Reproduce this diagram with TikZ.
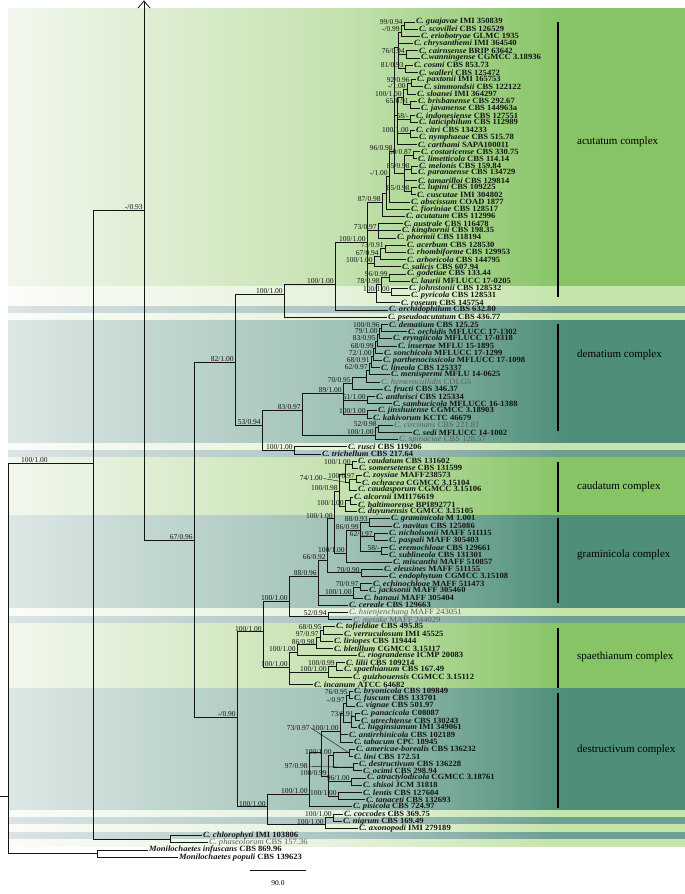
\documentclass[tikz,border=0pt]{standalone}
\usepackage{fontspec}
\setmainfont{Liberation Serif}
\newfontfamily\leaffont[FakeStretch=1.07]{Liberation Serif}
\usetikzlibrary{arrows.meta}
\definecolor{treeink}{HTML}{141414}
\definecolor{leafgray}{HTML}{5C5C5C}
\definecolor{greenL}{HTML}{F2F7EE}
\definecolor{greenM}{HTML}{C3E1AE}
\definecolor{greenR}{HTML}{86C466}
\definecolor{paleL}{HTML}{FAFCF8}
\definecolor{paleM}{HTML}{E5F2DB}
\definecolor{paleR}{HTML}{C4E4AA}
\definecolor{tealL}{HTML}{DDE7E6}
\definecolor{tealM}{HTML}{9FC1B6}
\definecolor{tealR}{HTML}{4F8F7A}
\definecolor{slateL}{HTML}{DCE4E5}
\definecolor{slateM}{HTML}{A9C4C2}
\definecolor{slateR}{HTML}{6C9E92}
\pgfdeclarehorizontalshading{greenband}{100bp}{color(0bp)=(greenL); color(25bp)=(greenL); color(50bp)=(greenM); color(66bp)=(greenR); color(100bp)=(greenR)}
\pgfdeclarehorizontalshading{paleband}{100bp}{color(0bp)=(paleL); color(25bp)=(paleL); color(50bp)=(paleM); color(66bp)=(paleR); color(100bp)=(paleR)}
\pgfdeclarehorizontalshading{tealband}{100bp}{color(0bp)=(tealL); color(25bp)=(tealL); color(50bp)=(tealM); color(66bp)=(tealR); color(100bp)=(tealR)}
\pgfdeclarehorizontalshading{slateband}{100bp}{color(0bp)=(slateL); color(25bp)=(slateL); color(50bp)=(slateM); color(66bp)=(slateR); color(100bp)=(slateR)}
\newcommand{\colle}[1]{\textit{C. #1}}
\newcommand{\band}[3]{\shade[shading=#1] (8,#2) rectangle (685,#3);}
% clade: [label options]{name}{x}{row}{support}{children}
\newcommand{\clade}[6][]{%
  \coordinate (#2) at (#3,#4);
  \foreach \k in {#6} {\draw[branch] (#2) |- (\k);}
  \ifx\relax#5\relax\else\node[sup,#1] (#2-s) at (#2) {#5};\fi}

\begin{document}
\begin{tikzpicture}[
  x=1pt,
  y=-7.2pt,
  branch/.style={treeink, line width=0.8pt},
  leaf/.style={anchor=west, inner sep=0.8pt, treeink, font=\leaffont\fontsize{8}{8}\selectfont\bfseries},
  leafgrey/.style={anchor=west, inner sep=0.8pt, leafgray, font=\leaffont\fontsize{8}{8}\selectfont},
  sup/.style={anchor=south east, inner sep=0.5pt, xshift=-0.6pt, treeink, font=\fontsize{7.5}{7.5}\selectfont},
  leader/.style={treeink, line width=0.4pt},
  cbar/.style={black, line width=2pt},
  cplx/.style={anchor=west, inner sep=0pt, black, font=\fontsize{11}{11}\selectfont}
]
  \useasboundingbox (0,-3.0556) rectangle (685,121.111);

  % ---- background bands, one per complex / isolated lineage ------------
  \band{greenband}{-1.944}{36.8}
  \band{paleband}{36.8}{39.5}
  \band{slateband}{39.5}{40.5}
  \band{paleband}{40.5}{41.5}
  \band{tealband}{41.5}{58.5}
  \band{paleband}{58.5}{59.5}
  \band{slateband}{59.5}{60.5}
  \band{greenband}{60.5}{68.5}
  \band{tealband}{68.5}{81.5}
  \band{paleband}{81.5}{82.5}
  \band{slateband}{82.5}{83.5}
  \band{greenband}{83.5}{92.5}
  \band{tealband}{92.5}{109.5}
  \band{paleband}{109.5}{110.5}
  \band{slateband}{110.5}{111.5}
  \band{paleband}{111.5}{112.5}
  \band{slateband}{112.5}{113.5}
  \band{paleband}{113.5}{114.5}

  % ---- tips, one row each ----------------------------------------------
  \node[leaf] (guajavae) at (415,0) {\colle{guajavae} IMI 350839};
  \node[leaf] (scovillei) at (418,1) {\colle{scovillei} CBS 126529};
  \node[leaf] (eriobotryae) at (420,2) {\colle{eriobotryae} GLMC 1935};
  \node[leaf] (chrysanthemi) at (413,3) {\colle{chrysanthemi} IMI 364540};
  \node[leaf] (cairnsense) at (418,4) {\colle{cairnsense} BRIP 63642};
  \node[leaf] (wanningense) at (420,5) {\textit{C.wanningense} CGMCC 3.18936};
  \node[leaf] (cosmi) at (413,6) {\colle{cosmi} CBS 853.73};
  \node[leaf] (walleri) at (418,7) {\colle{walleri} CBS 125472};
  \node[leaf] (paxtonii) at (416,8) {\colle{paxtonii} IMI 165753};
  \node[leaf] (simmondsii) at (423,9) {\colle{simmondsii} CBS 122122};
  \node[leaf] (sloanei) at (416,10) {\colle{sloanei} IMI 364297};
  \node[leaf] (brisbanense) at (417,11) {\colle{brisbanense} CBS 292.67};
  \node[leaf] (javanense) at (420,12) {\colle{javanense} CBS 144963a};
  \node[leaf] (indonesiense) at (415,13) {\colle{indonesiense} CBS 127551};
  \node[leaf] (laticiphilum) at (418,14) {\colle{laticiphilum} CBS 112989};
  \node[leaf] (citri) at (415,15) {\colle{citri} CBS 134233};
  \node[leaf] (nymphaeae) at (418,16) {\colle{nymphaeae} CBS 515.78};
  \node[leaf] (carthami) at (417,17) {\colle{carthami} SAPA100011};
  \node[leaf] (costaricense) at (420,18) {\colle{costaricense} CBS 330.75};
  \node[leaf] (limetticola) at (417,19) {\colle{limetticola} CBS 114.14};
  \node[leaf] (melonis) at (418,20) {\colle{melonis} CBS 159.84};
  \node[leaf] (paranaense) at (417,21) {\colle{paranaense} CBS 134729};
  \node[leaf] (tamarilloi) at (417,22) {\colle{tamarilloi} CBS 129814};
  \node[leaf] (lupini) at (417,23) {\colle{lupini} CBS 109225};
  \node[leaf] (cuscutae) at (416,24) {\colle{cuscutae} IMI 304802};
  \node[leaf] (abscissum) at (410,25) {\colle{abscissum} COAD 1877};
  \node[leaf] (fioriniae) at (410,26) {\colle{fioriniae} CBS 128517};
  \node[leaf] (acutatum) at (405,27) {\colle{acutatum} CBS 112996};
  \node[leaf] (australe) at (403,28) {\colle{australe} CBS 116478};
  \node[leaf] (kinghornii) at (401,29) {\colle{kinghornii} CBS 198.35};
  \node[leaf] (phormii) at (396,30) {\colle{phormii} CBS 118194};
  \node[leaf] (acerbum) at (406,31) {\colle{acerbum} CBS 128530};
  \node[leaf] (rhombiforme) at (406,32) {\colle{rhombiforme} CBS 129953};
  \node[leaf] (arboricola) at (406,33) {\colle{arboricola} CBS 144795};
  \node[leaf] (salicis) at (401,34) {\colle{salicis} CBS 607.94};
  \node[leaf] (godetiae) at (406,35) {\colle{godetiae} CBS 133.44};
  \node[leaf] (laurii) at (410,36) {\colle{laurii} MFLUCC 17-0205};
  \node[leaf] (johnstonii) at (408,37) {\colle{johnstonii} CBS 128532};
  \node[leaf] (pyricola) at (410,38) {\colle{pyricola} CBS 128531};
  \node[leaf] (roseum) at (400,39) {\colle{roseum} CBS 145754};
  \node[leaf] (orchidophilum) at (388,40) {\colle{orchidophilum} CBS 632.80};
  \node[leaf] (pseudoacutatum) at (387,41) {\colle{pseudoacutatum} CBS 436.77};
  \node[leaf] (dematium) at (388,42) {\colle{dematium} CBS 125.25};
  \node[leaf] (orchidis) at (407,43) {\colle{orchidis} MFLUCC 17-1302};
  \node[leaf] (eryngiicola) at (392,44) {\colle{eryngiicola} MFLUCC 17-0318};
  \node[leaf] (insertae) at (397,45) {\colle{insertae} MFLU 15-1895};
  \node[leaf] (sonchicola) at (383,46) {\colle{sonchicola} MFLUCC 17-1299};
  \node[leaf] (parthenocissicola) at (382,47) {\colle{parthenocissicola} MFLUCC 17-1098};
  \node[leaf] (lineola) at (380,48) {\colle{lineola} CBS 125337};
  \node[leaf] (menispermi) at (390,49) {\colle{menispermi} MFLU 14-0625};
  \node[leafgrey] (hemerocallidis) at (380,50) {\colle{hemerocallidis} CDLG5};
  \node[leaf] (fructi) at (383,51) {\colle{fructi} CBS 346.37};
  \node[leaf] (anthrisci) at (375,52) {\colle{anthrisci} CBS 125334};
  \node[leaf] (sambucicola) at (392,53) {\colle{sambucicola} MFLUCC 16-1388};
  \node[leaf] (jinshuiense) at (377,54) {\colle{jinshuiense} CGMCC 3.18903};
  \node[leaf] (kakivorum) at (372,55) {\colle{kakivorum} KCTC 46679};
  \node[leafgrey] (circinans) at (393,56) {\colle{circinans} CBS 221.81};
  \node[leaf] (sedi) at (412,57) {\colle{sedi} MFLUCC 14-1002};
  \node[leafgrey] (spinaciae) at (398,58) {\colle{spinaciae} CBS 128.57};
  \node[leaf] (rusci) at (347,59) {\colle{rusci} CBS 119206};
  \node[leaf] (trichellum) at (321,60) {\colle{trichellum} CBS 217.64};
  \node[leaf] (caudatum) at (357,61) {\colle{caudatum} CBS 131602};
  \node[leaf] (somersetense) at (358,62) {\colle{somersetense} CBS 131599};
  \node[leaf] (zoysiae) at (362,63) {\colle{zoysiae} MAFF238573};
  \node[leaf] (ochracea) at (361,64) {\colle{ochracea} CGMCC 3.15104};
  \node[leaf] (caudasporum) at (357,65) {\colle{caudasporum} CGMCC 3.15106};
  \node[leaf] (alcornii) at (353,66) {\colle{alcornii} IMI176619};
  \node[leaf] (baltimorense) at (357,67) {\colle{baltimorense} BPI892771};
  \node[leaf] (duyunensis) at (357,68) {\colle{duyunensis} CGMCC 3.15105};
  \node[leaf] (graminicola) at (390,69) {\colle{graminicola} M 1.001};
  \node[leaf] (navitas) at (392,70) {\colle{navitas} CBS 125086};
  \node[leaf] (nicholsonii) at (388,71) {\colle{nicholsonii} MAFF 511115};
  \node[leaf] (paspali) at (388,72) {\colle{paspali} MAFF 305403};
  \node[leaf] (eremochloae) at (388,73) {\colle{eremochloae} CBS 129661};
  \node[leaf] (sublineola) at (388,74) {\colle{sublineola} CBS 131301};
  \node[leaf] (miscanthi) at (392,75) {\colle{miscanthi} MAFF 510857};
  \node[leaf] (eleusines) at (383,76) {\colle{eleusines} MAFF 511155};
  \node[leaf] (endophytum) at (388,77) {\colle{endophytum} CGMCC 3.15108};
  \node[leaf] (echinochloae) at (372,78) {\colle{echinochloae} MAFF 511473};
  \node[leaf] (jacksonii) at (368,79) {\colle{jacksonii} MAFF 305460};
  \node[leaf] (hanaui) at (363,80) {\colle{hanaui} MAFF 305404};
  \node[leaf] (cereale) at (348,81) {\colle{cereale} CBS 129663};
  \node[leafgrey] (hsienjenchang) at (348,82) {\colle{hsienjenchang} MAFF 243051};
  \node[leafgrey] (metake) at (352,83) {\colle{metake} MAFF 244029};
  \node[leaf] (tofieldiae) at (335,84) {\colle{tofieldiae} CBS 495.85};
  \node[leaf] (verruculosum) at (343,85) {\colle{verruculosum} IMI 45525};
  \node[leaf] (liriopes) at (333,86) {\colle{liriopes} CBS 119444};
  \node[leaf] (bletillum) at (333,87) {\colle{bletillum} CGMCC 3.15117};
  \node[leaf] (riograndense) at (357,88) {\colle{riograndense} ICMP 20083};
  \node[leaf] (lilii) at (345,89) {\colle{lilii} CBS 109214};
  \node[leaf] (spaethianum) at (343,90) {\colle{spaethianum} CBS 167.49};
  \node[leaf] (guizhouensis) at (352,91) {\colle{guizhouensis} CGMCC 3.15112};
  \node[leaf] (incanum) at (313,92) {\colle{incanum} ATCC 64682};
  \node[leaf] (bryonicola) at (353,93) {\colle{bryonicola} CBS 109849};
  \node[leaf] (fuscum) at (353,94) {\colle{fuscum} CBS 133701};
  \node[leaf] (vignae) at (355,95) {\colle{vignae} CBS 501.97};
  \node[leaf] (panacicola) at (360,96) {\colle{panacicola} C08087};
  \node[leaf] (utrechtense) at (360,97) {\colle{utrechtense} CBS 130243};
  \node[leaf] (higginsianum) at (357,98) {\colle{higginsianum} IMI 349061};
  \node[leaf] (antirrhinicola) at (348,99) {\colle{antirrhinicola} CBS 102189};
  \node[leaf] (tabacum) at (353,100) {\colle{tabacum} CPC 18945};
  \node[leaf] (americae) at (355,101) {\colle{americae-borealis} CBS 136232};
  \node[leaf] (lini) at (353,102) {\colle{lini} CBS 172.51};
  \node[leaf] (destructivum) at (358,103) {\colle{destructivum} CBS 136228};
  \node[leaf] (ocimi) at (362,104) {\colle{ocimi} CBS 298.94};
  \node[leaf] (atractylodicola) at (366,105) {\colle{atractylodicola} CGMCC 3.18761};
  \node[leaf] (shisoi) at (362,106) {\colle{shisoi} JCM 31818};
  \node[leaf] (lentis) at (362,107) {\colle{lentis} CBS 127604};
  \node[leaf] (tanaceti) at (365,108) {\colle{tanaceti} CBS 132693};
  \node[leaf] (pisicola) at (352,109) {\colle{pisicola} CBS 724.97};
  \node[leaf] (coccodes) at (343,110) {\colle{coccodes} CBS 369.75};
  \node[leaf] (nigrum) at (342,111) {\colle{nigrum} CBS 169.49};
  \node[leaf] (axonopodi) at (358,112) {\colle{axonopodi} IMI 279189};
  \node[leaf] (chlorophyti) at (202,113) {\colle{chlorophyti} IMI 103806};
  \node[leafgrey] (phaseolorum) at (208,114) {\colle{phaseolorum} CBS 157.36};
  \node[leaf] (infuscans) at (148,115) {\textit{Monilochaetes infuscans} CBS 869.96};
  \node[leaf] (populi) at (178,116) {\textit{Monilochaetes populi} CBS 139623};

  % ---- acutatum complex ------------------------------------------------
  \clade{a1}{404}{0.5}{99/0.94}{guajavae.west,scovillei.west}
  \clade{a2}{401}{1.4}{-/0.99}{a1,eriobotryae.west}
  \clade{a3}{406}{4.5}{76/0.94}{cairnsense.west,wanningense.west}
  \clade{a4}{405}{6.5}{81/0.93}{cosmi.west,walleri.west}
  \clade{a5}{398}{3.5}{}{a2,chrysanthemi.west,a3,a4}
  \clade{b1}{411}{8.5}{92/0.96}{paxtonii.west,simmondsii.west}
  \clade{b2}{407}{9.4}{-/1.00}{b1,sloanei.west}
  \clade{b3}{410}{11.5}{65/0.91}{brisbanense.west,javanense.west}
  \clade{b4}{403}{10.5}{100/1.00}{b2,b3}
  \clade{b5}{410}{13.5}{58/-}{indonesiense.west,laticiphilum.west}
  \clade{b6}{410}{15.5}{100/1.00}{citri.west,nymphaeae.west}
  \clade{b7}{397}{13}{}{b4,b5,b6,carthami.west}
  \clade{c1}{413}{18.5}{60/0.87}{costaricense.west,limetticola.west}
  \clade{c2}{411}{20.5}{85/0.98}{melonis.west,paranaense.west}
  \clade{c3}{411}{23.5}{85/0.98}{lupini.west,cuscutae.west}
  \clade{c4}{404}{21}{}{c1,c2,tamarilloi.west,c3}
  \clade{c5}{394}{18}{96/0.98}{a5,b7,c4}
  \clade{m1}{389}{21.5}{-/1.00}{c5,abscissum.west}
  \clade{f1}{386}{23.8}{}{m1,fioriniae.west}
  \clade{n87}{382}{25}{87/0.98}{f1,acutatum.west}
  \clade{l9}{378}{29}{73/0.97}{australe.west,kinghornii.west,phormii.west}
  \clade{l1}{385}{31.5}{73/0.91}{acerbum.west,rhombiforme.west}
  \clade{l2}{380}{32.5}{67/0.94}{l1,arboricola.west}
  \clade{l3}{374}{33.5}{100/1.00}{l2,salicis.west}
  \clade{l4}{389}{35.5}{96/0.99}{godetiae.west,laurii.west}
  \clade{l5}{391}{37.5}{100/1.00}{johnstonii.west,pyricola.west}
  \clade{l6}{381}{36.5}{78/0.98}{l4,l5}
  \clade{l7}{376}{37.5}{}{l6,roseum.west}
  \clade{acu2}{367}{30.6}{100/1.00}{n87,l9,l3,l7}
  \clade{acu1}{335}{36.4}{100/1.00}{acu2,orchidophilum.west}
  \clade{acu0}{284}{37.8}{100/1.00}{acu1,pseudoacutatum.west}

  % ---- dematium complex and its two neighbours ---------------------------
  \clade{de1}{381}{42.5}{100/0.96}{dematium.west,orchidis.west}
  \clade{de2}{379}{43.4}{79/1.00}{de1,eryngiicola.west}
  \clade{de3}{377}{44.4}{83/0.95}{de2,insertae.west}
  \clade{de4}{375}{45.4}{68/0.99}{de3,sonchicola.west}
  \clade{de5}{373}{46.4}{72/1.00}{de4,parthenocissicola.west}
  \clade{de6}{371}{47.4}{68/0.91}{de5,lineola.west}
  \clade{de7}{369}{48.4}{62/0.97}{de6,menispermi.west}
  \clade{de8}{366}{49.4}{}{de7,hemerocallidis.west}
  \clade{de9}{352}{50.2}{70/0.95}{de8,fructi.west}
  \clade{de10}{367}{52.5}{51/1.00}{anthrisci.west,sambucicola.west}
  \clade{de11}{367}{54.5}{100/1.00}{jinshuiense.west,kakivorum.west}
  \clade{de12}{343}{51.6}{89/1.00}{de9,de10,de11}
  \clade{de13}{378}{56.3}{52/0.98}{circinans.west,sedi.west}
  \clade{de14}{375}{57.4}{100/1.00}{de13,spinaciae.west}
  \clade{de15}{302}{54}{83/0.97}{de12,de14}
  \clade{de16}{294}{59.5}{100/1.00}{rusci.west,trichellum.west}
  \clade{de17}{262}{56}{53/0.94}{de15,de16}
  \clade{dem}{235}{47.3}{82/1.00}{acu0,de17}

  % ---- caudatum and graminicola complexes --------------------------------
  \clade{ca1}{352}{61.5}{100/1.00}{caudatum.west,somersetense.west}
  \clade{ca2}{356}{63.5}{100/0.97}{zoysiae.west,ochracea.west}
  \clade{ca3}{349}{64}{}{ca2,caudasporum.west}
  \clade{ca4}{345}{62.8}{}{ca1,ca3}
  \clade{ca5}{350}{66.5}{}{alcornii.west,baltimorense.west}
  \clade{ca6}{345}{67.3}{100/1.00}{ca5,duyunensis.west}
  \clade{cau}{339}{65.2}{100/0.98}{ca4,ca6}
  \node[sup, anchor=east] (lead74) at (324,63.4) {74/1.00};
  \draw[leader] (lead74.east) -- (ca3);
  \clade{g1}{369}{69.5}{88/0.93}{graminicola.west,navitas.west}
  \clade{g2}{374}{71.5}{62/0.97}{nicholsonii.west,paspali.west}
  \clade{g3}{381}{73.5}{58/-}{eremochloae.west,sublineola.west}
  \clade{g4}{360}{70.6}{86/0.99}{g1,g2,g3}
  \clade{g5}{346}{73.8}{100/1.00}{g4,miscanthi.west}
  \clade{N335}{334}{69}{100/1.00}{cau,g5}
  \clade{g6}{361}{76.5}{70/0.90}{eleusines.west,endophytum.west}
  \clade{N327}{327}{74.8}{66/0.92}{N335,g6}
  \clade{g8}{360}{78.5}{70/0.97}{echinochloae.west,jacksonii.west}
  \clade{g9}{353}{79.6}{100/1.00}{g8,hanaui.west}
  \clade{N318}{318}{77}{88/0.96}{N327,g9,cereale.west}
  \clade{g10}{328}{82.5}{52/0.94}{hsienjenchang.west,metake.west}
  \clade{N289}{289}{80.5}{100/1.00}{N318,g10}

  % ---- spaethianum complex -----------------------------------------------
  \clade{sp1}{323}{84.5}{68/0.95}{tofieldiae.west,verruculosum.west}
  \clade{sp2}{320}{85.5}{97/0.97}{sp1,liriopes.west}
  \clade{sp3}{316}{86.5}{86/0.98}{sp2,bletillum.west}
  \clade{sp4}{297}{87.5}{100/1.00}{sp3,riograndense.west}
  \clade{sp5}{336}{89.5}{100/0.99}{lilii.west,spaethianum.west}
  \clade{sp6}{328}{90.3}{100/1.00}{sp5,guizhouensis.west}
  \clade{sp7}{289}{89.6}{100/1.00}{sp4,sp6,incanum.west}
  \clade{N263}{263}{84.7}{100/1.00}{N289,sp7}

  % ---- destructivum complex and the lower lineages -----------------------
  \clade{ds1}{349}{93.5}{76/0.95}{bryonicola.west,fuscum.west}
  \clade{ds2}{346}{94.6}{-/0.97}{ds1,vignae.west}
  \clade{ds3}{355}{96.5}{73/0.91}{panacicola.west,utrechtense.west}
  \clade{ds4}{351}{97.3}{}{ds3,higginsianum.west}
  \clade{ds5}{343}{96}{}{ds2,ds4}
  \clade{ds6}{340}{98.5}{100/1.00}{ds5,antirrhinicola.west,tabacum.west}
  \clade{ds7}{349}{101.5}{}{americae.west,lini.west}
  \clade{ds8}{353}{103.5}{}{destructivum.west,ocimi.west}
  \clade{ds9}{333}{101.8}{100/1.00}{ds7,ds8}
  \clade{ds10}{351}{105.5}{96/1.00}{atractylodicola.west,shisoi.west}
  \clade{ds11}{338}{107.5}{100/1.00}{lentis.west,tanaceti.west}
  \clade{ds12}{328}{104.8}{100/0.99}{ds9,ds10,ds11}
  \clade{ds13}{321}{101.5}{}{ds6,ds12}
  \clade{N309}{309}{107.3}{100/1.00}{ds13,pisicola.west}
  \node[sup, anchor=east] (lead73) at (311,98) {73/0.97};
  \draw[leader] (lead73.east) -- (ds7);
  \node[sup, anchor=east] (lead97) at (309,103.4) {97/0.98};
  \draw[leader] (lead97.east) -- (ds8);
  \clade{cn1}{333}{110.5}{100/1.00}{coccodes.west,nigrum.west}
  \clade{cn2}{325}{111.5}{100/1.00}{cn1,axonopodi.west}
  \clade{N267}{267}{109}{100/1.00}{N309,cn2}
  \clade{N237}{237}{96.6}{-/0.90}{N263,N267}
  \clade{N194}{194}{72}{67/0.96}{dem,N237}
  \clade{N144}{144}{26.2}{-/0.93}{N194}
  \clade{ch1}{170}{113.5}{}{chlorophyti.west,phaseolorum.west}
  \clade[xshift=-44pt]{N93}{93}{61.3}{100/1.00}{N144,ch1}
  \clade{mo1}{97}{115.5}{}{infuscans.west,populi.west}
  \clade{root}{8}{107.6}{}{N93,mo1}

  % long branch cut at the top, and the root stub
  \coordinate (cut) at (144,-3.0);
  \draw[branch, -{Straight Barb[length=7pt,width=12pt]}] (N144) -- (cut);
  \coordinate (stub) at (0,107.6);
  \draw[branch] (root) -- (stub);

  % ---- complex bars and names --------------------------------------------
  \draw[cbar] (558,0) -- (558,38.2);
  \node[cplx] (acutatum-c) at (577,16.7) {acutatum complex};
  \draw[cbar] (558,42) -- (558,56.8);
  \node[cplx] (dematium-c) at (577,46.2) {dematium complex};
  \draw[cbar] (558,61.1) -- (558,68);
  \node[cplx] (caudatum-c) at (577,64.6) {caudatum complex};
  \draw[cbar] (558,68.9) -- (558,80.7);
  \node[cplx] (graminicola-c) at (577,74) {graminicola complex};
  \draw[cbar] (558,84.2) -- (558,92.5);
  \node[cplx] (spaethianum-c) at (577,88.2) {spaethianum complex};
  \draw[cbar] (558,93.2) -- (558,109.2);
  \node[cplx] (destructivum-c) at (577,101.1) {destructivum complex};

  % ---- scale bar ---------------------------------------------------------
  \coordinate (scale-l) at (250,117.8);
  \coordinate (scale-r) at (306,117.8);
  \draw[branch] (scale-l) -- (scale-r);
  \node[font=\fontsize{7.5}{7.5}\selectfont] (scale-v) at (278,119.6) {90.0};

\end{tikzpicture}
\end{document}
